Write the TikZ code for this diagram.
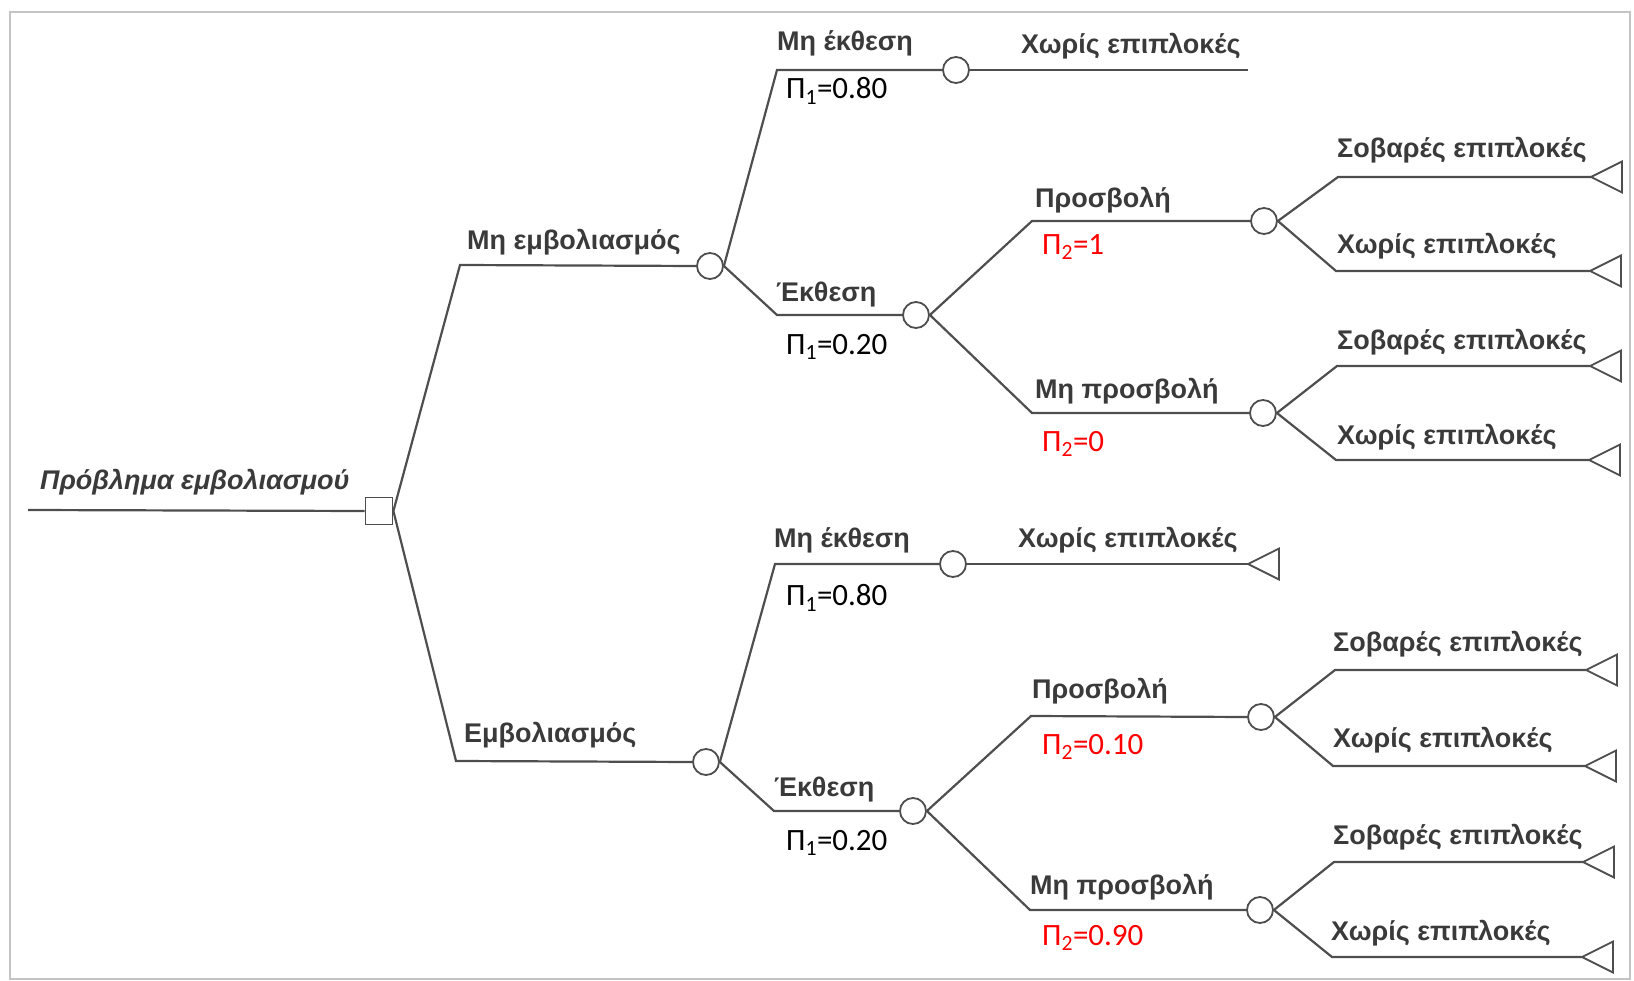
\documentclass[tikz,border=0pt]{standalone}
\usepackage{fontspec}
\setmainfont{Liberation Sans}
\newfontfamily\probfont{Carlito}
\usetikzlibrary{positioning}
\definecolor{linegray}{HTML}{4E4E4E}
\definecolor{textgray}{HTML}{3A3A3A}
\definecolor{framegray}{HTML}{C4C4C4}

\begin{document}
\begin{tikzpicture}[x=1pt, y=-1pt,
 chance/.style={shape=circle, fill=white, draw=linegray, line width=1.8pt, minimum size=26pt, inner sep=0pt, node contents=},
 decision/.style={shape=rectangle, fill=white, draw=linegray, line width=1.8pt, minimum size=27pt, inner sep=0pt, node contents=},
 branch/.style={draw=linegray, line width=2.2pt},
 endtri/.style={draw=linegray, line width=1.8pt, fill=white, line join=miter},
 lab/.style={anchor=west, inner sep=0pt, text=textgray, font=\fontsize{27}{31}\selectfont\bfseries},
 prob/.style={anchor=west, inner sep=0pt, font=\fontsize{31}{36}\selectfont\probfont},
]

%frame
\useasboundingbox (0,0) rectangle (1634,981);
\draw[framegray, line width=1.5pt] (10,12) rectangle (1630,979);

%decision
\coordinate (start) at (28,510);
\node (d) at (379,511) [decision];
\draw[branch] (start) -- (d.west);
\node[lab, font=\fontsize{27}{31}\selectfont\bfseries\itshape] at (40,482) {Πρόβλημα εμβολιασμού};

%upper half
\draw
node (c1) at (710,266) [chance]
node (c2) at (956,70) [chance]
node (c3) at (916,315) [chance]
node (c4) at (1264,221) [chance]
node (c5) at (1263,413) [chance];
\coordinate (k1) at (460,265);
\coordinate (k2) at (777,70);
\coordinate (k3) at (777,315);
\coordinate (k4) at (1032,221);
\coordinate (k5) at (1032,413);
\coordinate (k6) at (1338,177);
\coordinate (k7) at (1336,271);
\coordinate (k8) at (1337,366);
\coordinate (k9) at (1336,460);
\coordinate (e0) at (1248,70);
\coordinate (t1) at (1591,177);
\coordinate (t2) at (1590,271);
\coordinate (t3) at (1590,366);
\coordinate (t4) at (1589,460);

\draw[branch] (d.east) -- (k1) -- (c1.west);
\draw[branch] (c1.east) -- (k2) -- (c2.west);
\draw[branch] (c2.east) -- (e0);
\draw[branch] (c1.east) -- (k3) -- (c3.west);
\draw[branch] (c3.east) -- (k4) -- (c4.west);
\draw[branch] (c3.east) -- (k5) -- (c5.west);
\draw[branch] (c4.east) -- (k6) -- (t1);
\draw[branch] (c4.east) -- (k7) -- (t2);
\draw[branch] (c5.east) -- (k8) -- (t3);
\draw[branch] (c5.east) -- (k9) -- (t4);
\draw[endtri] (t1) -- ++(31,-15.5) -- ++(0,31) -- cycle;
\draw[endtri] (t2) -- ++(31,-15.5) -- ++(0,31) -- cycle;
\draw[endtri] (t3) -- ++(31,-15.5) -- ++(0,31) -- cycle;
\draw[endtri] (t4) -- ++(31,-15.5) -- ++(0,31) -- cycle;

\node[lab] at (467,242) {Μη εμβολιασμός};
\node[lab] at (777,43) {Μη έκθεση};
\node[prob] at (786,91) {Π\textsubscript{1}=0.80};
\node[lab] at (1021,46) {Χωρίς επιπλοκές};
\node[lab] at (776,295) {Έκθεση};
\node[prob] at (786,347) {Π\textsubscript{1}=0.20};
\node[lab] at (1035,200) {Προσβολή};
\node[prob, text=red] at (1042,247) {Π\textsubscript{2}=1};
\node[lab] at (1035,391) {Μη προσβολή};
\node[prob, text=red] at (1042,444) {Π\textsubscript{2}=0};
\node[lab] at (1337,150) {Σοβαρές επιπλοκές};
\node[lab] at (1337,246) {Χωρίς επιπλοκές};
\node[lab] at (1337,342) {Σοβαρές επιπλοκές};
\node[lab] at (1337,437) {Χωρίς επιπλοκές};

%lower half
\draw
node (c6) at (706,762) [chance]
node (c7) at (953,564) [chance]
node (c8) at (913,811) [chance]
node (c9) at (1261,717) [chance]
node (c10) at (1260,910) [chance];
\coordinate (k10) at (456,761);
\coordinate (k11) at (775,564);
\coordinate (k12) at (774,811);
\coordinate (k13) at (1031,716);
\coordinate (k14) at (1030,910);
\coordinate (k15) at (1335,670);
\coordinate (k16) at (1333,766);
\coordinate (k17) at (1334,862);
\coordinate (k18) at (1332,957);
\coordinate (t5) at (1248,564);
\coordinate (t6) at (1586,670);
\coordinate (t7) at (1585,766);
\coordinate (t8) at (1583,862);
\coordinate (t9) at (1582,957);

\draw[branch] (d.east) -- (k10) -- (c6.west);
\draw[branch] (c6.east) -- (k11) -- (c7.west);
\draw[branch] (c7.east) -- (t5);
\draw[branch] (c6.east) -- (k12) -- (c8.west);
\draw[branch] (c8.east) -- (k13) -- (c9.west);
\draw[branch] (c8.east) -- (k14) -- (c10.west);
\draw[branch] (c9.east) -- (k15) -- (t6);
\draw[branch] (c9.east) -- (k16) -- (t7);
\draw[branch] (c10.east) -- (k17) -- (t8);
\draw[branch] (c10.east) -- (k18) -- (t9);
\draw[endtri] (t5) -- ++(31,-15.5) -- ++(0,31) -- cycle;
\draw[endtri] (t6) -- ++(31,-15.5) -- ++(0,31) -- cycle;
\draw[endtri] (t7) -- ++(31,-15.5) -- ++(0,31) -- cycle;
\draw[endtri] (t8) -- ++(31,-15.5) -- ++(0,31) -- cycle;
\draw[endtri] (t9) -- ++(31,-15.5) -- ++(0,31) -- cycle;

\node[lab] at (464,735) {Εμβολιασμός};
\node[lab] at (774,540) {Μη έκθεση};
\node[prob] at (786,598) {Π\textsubscript{1}=0.80};
\node[lab] at (1018,540) {Χωρίς επιπλοκές};
\node[lab] at (774,790) {Έκθεση};
\node[prob] at (786,843) {Π\textsubscript{1}=0.20};
\node[lab] at (1032,691) {Προσβολή};
\node[prob, text=red] at (1042,747) {Π\textsubscript{2}=0.10};
\node[lab] at (1030,887) {Μη προσβολή};
\node[prob, text=red] at (1042,938) {Π\textsubscript{2}=0.90};
\node[lab] at (1333,644) {Σοβαρές επιπλοκές};
\node[lab] at (1333,740) {Χωρίς επιπλοκές};
\node[lab] at (1333,837) {Σοβαρές επιπλοκές};
\node[lab] at (1331,933) {Χωρίς επιπλοκές};

\end{tikzpicture}
\end{document}
